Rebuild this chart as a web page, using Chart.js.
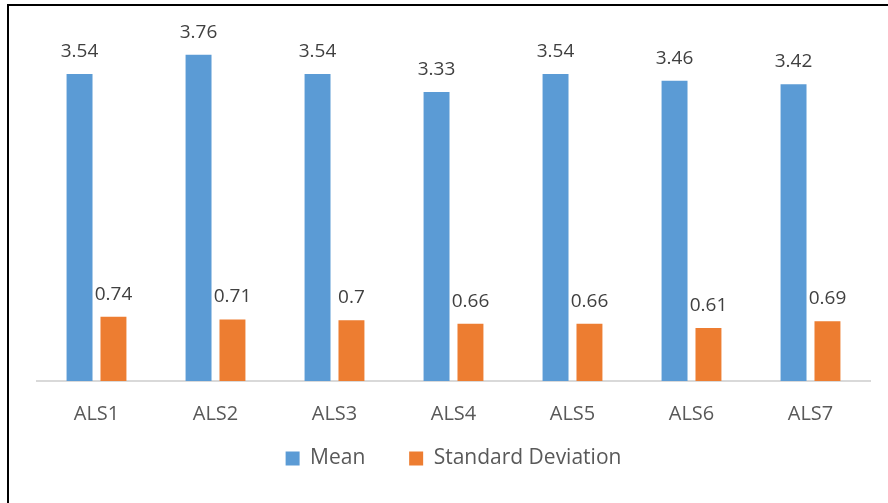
<!DOCTYPE html>
<html>
<head>
<meta charset="utf-8">
<script src="https://cdn.jsdelivr.net/npm/chart.js@4.4.1/dist/chart.umd.min.js"></script>
<style>
  html, body { margin: 0; padding: 0; background: #ffffff; }
  #wrap { position: relative; width: 888px; height: 503px; }
</style>
</head>
<body>
<div id="wrap"><canvas id="chart" width="888" height="503"></canvas></div>
<script>
// Scale items and their statistics
const categories = ['ALS1', 'ALS2', 'ALS3', 'ALS4', 'ALS5', 'ALS6', 'ALS7'];
const meanValues = [3.54, 3.76, 3.54, 3.33, 3.54, 3.46, 3.42];
const sdValues = [0.74, 0.71, 0.7, 0.66, 0.66, 0.61, 0.69];
const seriesNames = ['Mean', 'Standard Deviation'];

const FONT = "'Open Sans', 'Liberation Sans', sans-serif";

// Value labels above each bar
const valueLabels = {
  id: 'valueLabels',
  afterDatasetsDraw(chart) {
    const ctx = chart.ctx;
    ctx.save();
    ctx.font = '19px ' + FONT;
    ctx.fillStyle = '#404040';
    ctx.textAlign = 'center';
    ctx.textBaseline = 'alphabetic';
    chart.data.datasets.forEach((ds, i) => {
      chart.getDatasetMeta(i).data.forEach((bar, j) => {
        ctx.fillText(String(ds.data[j]), bar.x, bar.y - 17);
      });
    });
    ctx.restore();
  }
};

// Frame lines along the top and left edges
const frame = {
  id: 'frame',
  afterDraw(chart) {
    const ctx = chart.ctx;
    ctx.save();
    ctx.strokeStyle = '#000000';
    ctx.lineWidth = 2;
    ctx.beginPath();
    ctx.moveTo(8, 503);
    ctx.lineTo(8, 5);
    ctx.lineTo(888, 5);
    ctx.stroke();
    ctx.restore();
  }
};

new Chart(document.getElementById('chart'), {
  type: 'bar',
  data: {
    labels: categories,
    datasets: [
      { label: seriesNames[0], data: meanValues, backgroundColor: '#5B9BD5' },
      { label: seriesNames[1], data: sdValues, backgroundColor: '#ED7D31' }
    ]
  },
  options: {
    responsive: false,
    animation: false,
    devicePixelRatio: 1,
    layout: { padding: { top: 34, left: 37, right: 18, bottom: 24 } },
    datasets: {
      bar: { categoryPercentage: 0.57, barPercentage: 0.765 }
    },
    scales: {
      x: {
        grid: { display: false, drawTicks: false },
        border: { display: true, color: '#D9D9D9', width: 2 },
        ticks: { color: '#595959', font: { family: FONT, size: 20 }, padding: 21 },
        afterFit(scale) { scale.height = 45; }
      },
      y: {
        display: false,
        min: 0,
        max: 4
      }
    },
    plugins: {
      legend: {
        position: 'bottom',
        labels: {
          boxWidth: 14,
          boxHeight: 14,
          padding: 22,
          color: '#595959',
          font: { family: FONT, size: 21 },
          // wider gap after every entry except the last
          generateLabels(chart) {
            const items = Chart.defaults.plugins.legend.labels.generateLabels(chart);
            items.forEach((it, i) => {
              if (i < items.length - 1) it.text = it.text + '    ';
            });
            return items;
          }
        }
      },
      tooltip: { enabled: false }
    }
  },
  plugins: [valueLabels, frame]
});
</script>
</body>
</html>
